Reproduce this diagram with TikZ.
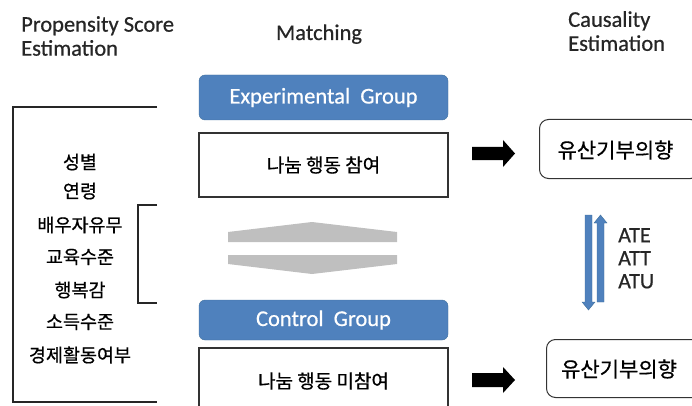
\documentclass[tikz,border=0pt]{standalone}
\usepackage{fontspec}
\setmainfont{Carlito}[FakeBold=0.6]
\newfontfamily\kr{Noto Sans CJK KR}[FakeBold=0.6]
\definecolor{grpblue}{HTML}{4F81BD}
\definecolor{grpedge}{HTML}{41719C}
\definecolor{matchgrey}{HTML}{BFBFBF}
\begin{document}
\begin{tikzpicture}[x=1pt,y=-1pt,
  head/.style={font=\fontsize{22.5}{24}\selectfont,align=left,inner sep=0pt,text=black!85},
  var/.style={font=\kr\fontsize{18.5}{20}\selectfont,inner sep=0pt,anchor=center},
  grp/.style={draw=grpedge,fill=grpblue,rounded corners=6pt,text=white,font=\fontsize{22.5}{24}\selectfont,inner sep=0pt},
  act/.style={draw=black!80,line width=1.1pt,font=\kr\fontsize{19}{21}\selectfont,inner sep=0pt},
  res/.style={draw=black!80,line width=1pt,rounded corners=9pt,inner sep=0pt},
  restext/.style={font=\kr\fontsize{21}{23}\selectfont,inner sep=0pt},
  frame/.style={draw=black!85,line width=1.1pt},
  blk/.style={fill=black},
  bluearr/.style={fill=grpblue,draw=grpedge,line width=0.4pt},
  grey/.style={fill=matchgrey}]
\useasboundingbox (0,0) rectangle (692,406);

% headings
\node[head,anchor=north west] (hps) at (21,16) {Propensity Score\\Estimation};
\node[head,anchor=base] (hm) at (319,40) {Matching};
\node[head,anchor=north west] (hc) at (568,11) {Causality\\Estimation};

% left bracket
\draw[frame] (157,107) -- (13,107) -- (13,402) -- (157,402);
\coordinate (ibt) at (157,205);
\coordinate (ibb) at (157,303);
\draw[frame] (ibt) -- (138,205) -- (138,303) -- (ibb);

% covariates
\node[var] (v1) at (80,162) {성별};
\node[var] (v2) at (80,191) {연령};
\node[var] (v3) at (80,225) {배우자유무};
\node[var] (v4) at (80,257) {교육수준};
\node[var] (v5) at (80,290) {행복감};
\node[var] (v6) at (80,322) {소득수준};
\node[var] (v7) at (80,355) {경제활동여부};

% groups
\node[grp,minimum width=249pt,minimum height=45pt] (eg) at (323.5,97.5) {Experimental\ \ Group};
\node[act,minimum width=249pt,minimum height=64pt] (ea) at (323.5,165) {나눔 행동 참여};
\node[grp,minimum width=249pt,minimum height=40pt] (cg) at (323.5,320) {Control\ \ Group};
\draw[act] (199,412) -- (199,348) -- (448,348) -- (448,412);
\node[font=\kr\fontsize{19}{21}\selectfont,inner sep=0pt] (ca) at (323.5,381) {나눔 행동 미참여};

% matching arrows
\fill[grey] (228,242) -- (228,232) -- (312,222) -- (397,232) -- (397,242) -- cycle;
\fill[grey] (228,255) -- (397,255) -- (397,264) -- (312,274) -- (228,264) -- cycle;

% black block arrows
\fill[blk] (472,147) -- (503,147) -- (503,140) -- (515,153.5) -- (503,167) -- (503,160) -- (472,160) -- cycle;
\fill[blk] (472,373) -- (503,373) -- (503,367) -- (515,380) -- (503,393) -- (503,387) -- (472,387) -- cycle;

% outcome boxes
\node[res,minimum width=160pt,minimum height=59pt,anchor=north west] (r1) at (539,119) {};
\node[restext] (r1t) at (615.5,150) {유산기부의향};
\node[res,minimum width=160pt,minimum height=58pt,anchor=north west] (r2) at (546,339) {};
\node[restext] (r2t) at (619,369) {유산기부의향};

% blue arrows
\path[bluearr] (585,215) -- (592,215) -- (592,302) -- (595,302) -- (588.5,310) -- (582,302) -- (585,302) -- cycle;
\path[bluearr] (597,302) -- (597,223) -- (594,223) -- (600.5,215) -- (607,223) -- (604,223) -- (604,302) -- cycle;

\node[font=\fontsize{22}{23}\selectfont,align=left,inner sep=0pt,anchor=north west,text=black!85] (eff) at (618,228) {ATE\\ATT\\ATU};
\end{tikzpicture}
\end{document}
